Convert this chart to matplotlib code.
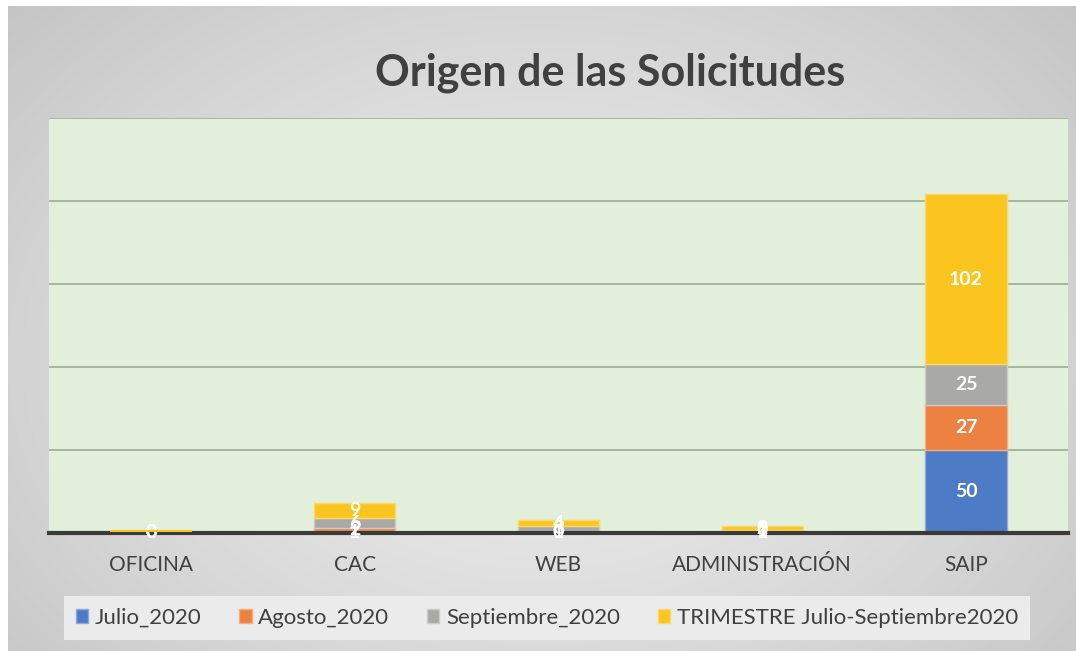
import numpy as np
import matplotlib
matplotlib.use("Agg")
import matplotlib.pyplot as plt

plt.rcParams['font.family'] = ['Lato', 'DejaVu Sans']

# data
categorias = ["OFICINA", "CAC", "WEB", "ADMINISTRACIÓN", "SAIP"]
julio = [0, 1, 0, 1, 50]
agosto = [0, 2, 1, 1, 27]
septiembre = [0, 6, 3, 0, 25]
trimestre = [0, 9, 4, 2, 102]
series_names = ["Julio_2020", "Agosto_2020", "Septiembre_2020",
                "TRIMESTRE Julio-Septiembre2020"]
colores = ["#4E7BC6", "#ED8141", "#A9A9A8", "#FBC520"]
bordes = ["#8FA9DA", "#F3AE83", "#CBCBCA", "#FCD86A"]

W, H = 1076, 651
fig = plt.figure(figsize=(W / 100, H / 100), dpi=100)
fig.patch.set_facecolor("white")

# gradient background of chart area
bg = fig.add_axes([8 / W, 0, 1 - 8 / W, 1 - 6 / H], zorder=0)
yy, xx = np.mgrid[0:1:300j, 0:1:500j]
d = np.sqrt(((xx - 0.5) / 0.75) ** 2 + ((yy - 0.55) / 0.9) ** 2)
g = 0.93 - 0.18 * d ** 1.3
bg.imshow(np.dstack([g, g, g]), aspect="auto", extent=[0, 1, 0, 1],
          origin="upper")
bg.set_axis_off()

# main axes
ax = fig.add_axes([49 / W, (H - 533) / H, 1019 / W, (533 - 118) / H], zorder=1)
ax.set_facecolor("#E2EFDA")
x = np.arange(len(categorias))
bottom = np.zeros(len(categorias))
todas = [julio, agosto, septiembre, trimestre]
for vals, name, c, e in zip(todas, series_names, colores, bordes):
    vals = np.array(vals, dtype=float)
    ax.bar(x, vals, 0.4, bottom=bottom, color=c, edgecolor=e, linewidth=1,
           label=name, zorder=3)
    for xi, b, v in zip(x, bottom, vals):
        ax.text(xi, b + v / 2, f"{int(v)}", ha="center", va="center",
                color="white", fontsize=14, fontweight="bold", zorder=5)
    bottom += vals

# thin line for the zero-height TRIMESTRE bar (OFICINA), as the original shows
ax.hlines(1.2, x[0] - 0.2, x[0] + 0.2, color=colores[3], linewidth=1.5, zorder=5)

ax.set_xlim(-0.5, len(categorias) - 0.5)
ax.set_ylim(0, 250)
ax.set_yticks([50, 100, 150, 200, 250])
ax.yaxis.grid(True, color="#9AAE92", linewidth=1.2)
ax.set_axisbelow(True)
ax.tick_params(axis="y", left=False, labelleft=False)
ax.tick_params(axis="x", length=0, pad=16, labelsize=15, labelcolor="#404040")
ax.set_xticks(x)
ax.set_xticklabels(categorias)
for s in ["top", "right", "left"]:
    ax.spines[s].set_visible(False)
ax.spines["bottom"].set_color("#3A3A3A")
ax.spines["bottom"].set_linewidth(3)
ax.spines["bottom"].set_zorder(4)

fig.text(610 / W, 1 - 73 / H, "Origen de las Solicitudes", ha="center",
         va="center", fontsize=31, fontweight="bold", color="#404040")

leg = fig.legend(loc="center", bbox_to_anchor=(547 / W, 1 - 618 / H), ncol=4,
                 fontsize=16, frameon=True, fancybox=False,
                 handlelength=0.55, handleheight=0.55, handletextpad=0.3,
                 columnspacing=1.7, borderpad=0.55)
leg.get_frame().set_facecolor("#EBEBEB")
leg.get_frame().set_edgecolor("none")
leg.get_frame().set_alpha(1)
for t in leg.get_texts():
    t.set_color("#404040")

fig.savefig("out.png", dpi=100)
